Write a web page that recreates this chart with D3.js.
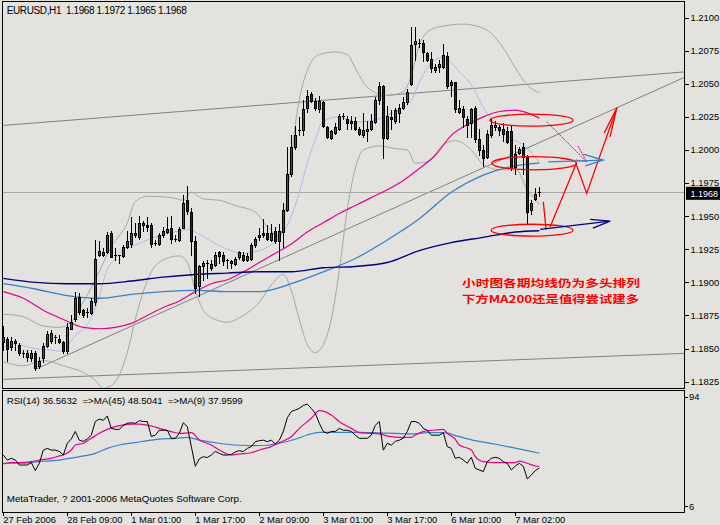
<!DOCTYPE html>
<html><head><meta charset="utf-8">
<script src="https://cdnjs.cloudflare.com/ajax/libs/d3/7.8.5/d3.min.js"></script>
<style>
body{margin:0;background:#e3e2de;}
svg{display:block;}
text{font-family:"Liberation Sans",Arial,sans-serif;}
</style>
</head><body><svg id="c" width="720" height="525"></svg>
<script>
// ---------- DATA ----------
const openP=[1.1855,1.1857,1.1851,1.1854,1.1853,1.1847,1.1844,1.1843,1.1847,1.1837,
1.1843,1.1852,1.1856,1.1858,1.1857,1.1855,1.1848,1.1865,1.1872,1.1889,
1.1879,1.1877,1.1877,1.1885,1.1921,1.1921,1.1923,1.1937,1.1921,1.1920,
1.1920,1.1927,1.1929,1.1936,1.1934,1.1943,1.1943,1.1943,1.1929,1.1929,
1.1936,1.1938,1.1941,1.1933,1.1932,1.1941,1.1962,1.1953,1.1931,1.1897,
1.1912,1.1914,1.1911,1.1913,1.1923,1.1921,1.1917,1.1916,1.1914,1.1919,
1.1921,1.1917,1.1918,1.1928,1.1934,1.1936,1.1937,1.1932,1.1939,1.1931,
1.1938,1.1955,1.1982,1.2002,1.2014,1.2015,1.2032,1.2042,1.2037,1.2031,
1.2036,1.2017,1.2009,1.2013,1.2016,1.2026,1.2023,1.2020,1.2022,1.2016,
1.2011,1.2014,1.2016,1.2021,1.2038,1.2048,1.2009,1.2025,1.2022,1.2028,
1.2032,1.2036,1.2050,1.2080,1.2081,1.2081,1.2073,1.2069,1.2060,1.2063,
1.2063,1.2071,1.2049,1.2051,1.2029,1.2031,1.2023,1.2020,1.2032,1.2008,
1.2000,1.1995,1.2011,1.2017,1.2017,1.2016,1.2014,1.2014,1.1987,1.1998,
1.2002,1.1995,1.1955,1.1963,1.1968];
const highP=[1.1867,1.1859,1.1859,1.1857,1.1854,1.1849,1.1849,1.1849,1.1848,1.1844,
1.1854,1.1863,1.1864,1.1860,1.1860,1.1856,1.1869,1.1875,1.1893,1.1892,
1.1880,1.1881,1.1888,1.1932,1.1931,1.1926,1.1938,1.1939,1.1926,1.1921,
1.1928,1.1939,1.1949,1.1945,1.1950,1.1946,1.1949,1.1945,1.1932,1.1937,
1.1942,1.1949,1.1950,1.1936,1.1942,1.1966,1.1973,1.1956,1.1935,1.1913,
1.1916,1.1917,1.1917,1.1923,1.1924,1.1923,1.1918,1.1917,1.1919,1.1924,
1.1923,1.1922,1.1930,1.1934,1.1941,1.1948,1.1943,1.1944,1.1942,1.1944,
1.1960,1.2002,1.2011,1.2018,1.2025,1.2038,1.2045,1.2044,1.2039,1.2041,
1.2037,1.2018,1.2015,1.2020,1.2027,1.2028,1.2026,1.2026,1.2025,1.2017,
1.2028,1.2022,1.2027,1.2040,1.2051,1.2049,1.2033,1.2030,1.2032,1.2035,
1.2040,1.2046,1.2093,1.2093,1.2084,1.2083,1.2074,1.2074,1.2065,1.2068,
1.2080,1.2074,1.2053,1.2051,1.2038,1.2033,1.2026,1.2032,1.2033,1.2016,
1.2004,1.2015,1.2023,1.2022,1.2019,1.2020,1.2017,1.2018,1.2004,1.2002,
1.2005,1.1996,1.1962,1.1971,1.1972];
const lowP=[1.1849,1.1841,1.1849,1.1849,1.1845,1.1844,1.1841,1.1841,1.1834,1.1835,
1.1840,1.1851,1.1854,1.1854,1.1854,1.1847,1.1847,1.1865,1.1871,1.1876,
1.1874,1.1874,1.1876,1.1883,1.1920,1.1920,1.1922,1.1919,1.1917,1.1915,
1.1919,1.1926,1.1927,1.1934,1.1933,1.1939,1.1939,1.1927,1.1928,1.1928,
1.1934,1.1937,1.1930,1.1931,1.1931,1.1941,1.1952,1.1921,1.1892,1.1890,
1.1902,1.1903,1.1909,1.1912,1.1915,1.1913,1.1911,1.1911,1.1913,1.1918,
1.1916,1.1916,1.1917,1.1927,1.1932,1.1934,1.1932,1.1931,1.1930,1.1917,
1.1927,1.1954,1.1980,1.2001,1.2011,1.2011,1.2029,1.2036,1.2030,1.2029,
1.2017,1.2009,1.2008,1.2012,1.2015,1.2023,1.2016,1.2016,1.2015,1.2011,
1.2010,1.2007,1.2015,1.2020,1.2035,1.1994,1.2008,1.2016,1.2020,1.2021,
1.2031,1.2035,1.2049,1.2068,1.2078,1.2067,1.2067,1.2059,1.2059,1.2059,
1.2062,1.2047,1.2041,1.2029,1.2028,1.2017,1.2010,1.2010,1.2006,1.1996,
1.1988,1.1994,1.2010,1.2015,1.2011,1.2007,1.2005,1.1985,1.1982,1.1997,
1.1982,1.1945,1.1952,1.1962,1.1965];
const closeP=[1.1859,1.1850,1.1856,1.1856,1.1847,1.1846,1.1847,1.1847,1.1835,1.1841,
1.1852,1.1861,1.1862,1.1859,1.1855,1.1848,1.1866,1.1870,1.1888,1.1878,
1.1875,1.1878,1.1886,1.1918,1.1924,1.1923,1.1936,1.1919,1.1920,1.1921,
1.1927,1.1931,1.1937,1.1937,1.1945,1.1945,1.1942,1.1929,1.1930,1.1936,
1.1939,1.1940,1.1933,1.1932,1.1940,1.1960,1.1954,1.1931,1.1896,1.1912,
1.1915,1.1915,1.1914,1.1921,1.1920,1.1916,1.1917,1.1915,1.1918,1.1923,
1.1917,1.1920,1.1928,1.1933,1.1936,1.1937,1.1933,1.1937,1.1931,1.1939,
1.1955,1.1982,1.2002,1.2011,1.2015,1.2031,1.2041,1.2037,1.2032,1.2037,
1.2018,1.2010,1.2014,1.2017,1.2026,1.2025,1.2020,1.2022,1.2016,1.2012,
1.2015,1.2016,1.2022,1.2038,1.2048,1.2009,1.2026,1.2023,1.2030,1.2032,
1.2036,1.2044,1.2079,1.2082,1.2080,1.2074,1.2068,1.2062,1.2063,1.2065,
1.2072,1.2048,1.2051,1.2031,1.2032,1.2025,1.2019,1.2031,1.2008,1.2000,
1.1994,1.2012,1.2019,1.2019,1.2015,1.2012,1.2006,1.1986,1.1997,1.2001,
1.1995,1.1953,1.1960,1.1967,1.1968];

const navyIdx=[0,8,16,24,32,40,48,56,64,72,80,88,96,104,112,120,128,134];
const navyVal=[1.1903,1.1900,1.1899,1.1899,1.1901,1.1904,1.1906,1.1907,1.1908,1.1908,1.1911,1.1912,1.1915,1.1924,1.1930,1.1934,1.1938,1.1939];
const steelIdx=[0,8,16,24,32,40,48,56,64,72,80,88,96,104,112,120,128,134];
const steelVal=[1.1899,1.1895,1.1890,1.1888,1.1891,1.1893,1.1894,1.1893,1.1893,1.1899,1.1908,1.1918,1.1932,1.1948,1.1968,1.1981,1.1988,1.1990];
const magIdx=[0,5,10,15,20,24,28,32,36,40,44,48,52,56,60,64,68,72,76,80,84,88,92,96,100,104,108,112,116,120,124,128,131,134];
const magVal=[1.1893,1.1888,1.1879,1.1872,1.1866,1.1865,1.1866,1.1869,1.1875,1.1881,1.1886,1.1893,1.1899,1.1902,1.1908,1.1915,1.1922,1.1929,1.1938,1.1945,1.1952,1.1958,1.1964,1.1970,1.1977,1.1986,1.1996,1.2011,1.2019,1.2025,1.2029,1.2030,1.2028,1.2024];
const lightIdx=[4,8,12,14,16,18,20,22,24,26,28,30,32,36,40,44,46,48,52,56,60,64,68,70,72,74,76,78,80,84,88,92,96,100,102,104,106,108,110,112,114,116,118,120,122,124,126,128,130,132,134];
const lightVal=[1.1853,1.1850,1.1849,1.1848,1.1852,1.1860,1.1865,1.1873,1.1890,1.1910,1.1918,1.1925,1.1927,1.1932,1.1936,1.1939,1.1940,1.1938,1.1931,1.1925,1.1922,1.1924,1.1931,1.1938,1.1950,1.1968,1.1990,1.2008,1.2022,1.2025,1.2021,1.2022,1.2026,1.2032,1.2037,1.2051,1.2062,1.2068,1.2070,1.2066,1.2059,1.2053,1.2044,1.2032,1.2023,1.2015,1.2010,1.2007,1.2004,1.1998,1.1990];
const bbUpIdx=[0,5,10,14,17,19,23,27,31,33,36,42,45,47,50,54,58,63,66,69,70,71,72,73,74,76,79,83,86,88,90,92,96,100,102,104,106,109,115,119,122,125,128,131,134];
const bbUpVal=[1.1876,1.1874,1.1867,1.1866,1.1870,1.1880,1.1902,1.1927,1.1945,1.1961,1.1965,1.1964,1.1962,1.1968,1.1963,1.1962,1.1958,1.1953,1.1942,1.1935,1.1943,1.1966,1.1992,1.2019,1.2038,1.2060,1.2072,1.2074,1.2072,1.2062,1.2051,1.2045,1.2041,1.2044,1.2056,1.2079,1.2089,1.2093,1.2095,1.2093,1.2088,1.2077,1.2062,1.2049,1.2043];
const bbLoIdx=[0,5,10,15,20,23,25,27,29,31,33,35,37,40,44,46,48,50,53,56,60,64,67,70,72,74,76,78,80,82,84,86,88,90,94,98,101,103,106,110,113,117,120,124,128,131,134];
const bbLoVal=[1.1840,1.1837,1.1841,1.1837,1.1832,1.1826,1.1820,1.1822,1.1830,1.1847,1.1872,1.1893,1.1908,1.1917,1.1920,1.1915,1.1894,1.1879,1.1872,1.1870,1.1875,1.1885,1.1898,1.1906,1.1894,1.1872,1.1853,1.1847,1.1853,1.1872,1.1909,1.1955,1.1986,1.2000,1.2003,1.2001,1.2000,1.1990,1.1991,1.2004,1.2007,1.2000,1.1989,1.1985,1.1986,1.1970,1.1959];

// trendlines: [startIdx, startPrice, endIdx, endPrice]
const trendA=[0,1.20185,170.2,1.20589];
const trendB=[8,1.18343,170.2,1.20547];
const trendC=[0,1.18268,170.2,1.18464];
const bidPrice=1.1968;

const rsiVal=[47,43,44.4,43,39,39,39,41,34.5,40.4,
51,52.4,51,51,50,47,56.5,60,66,59,
58,60,63,74,76,75,78.5,68.5,67.7,67.7,
71,72.6,73,72.6,74.7,74,74,62,63,67,
67,67,60.5,60.5,64.5,73,70,54,38,44,
45.7,45,47,50,48.4,47,47,47.5,49.5,50.6,
49.8,52.4,53.8,57.8,58.6,59,57.8,59,56,59,
66,77,82,83.3,84.6,87,88,84.6,80.6,72.6,
66,64.5,66,66,68.5,67,67,66,63,60.5,
60.5,60.5,63,71,74,51,56.5,55,58,59,
60.5,66,74,74,72.6,68.5,67,63,63,63,
65,53.8,52.4,44.4,45.2,43,40.4,45.2,36.3,35,
33.7,41.7,44.4,45.2,44.4,41.7,40.4,35,38.2,40.4,
38,27.8,31,34.5,36.56];
const rsiMa9Idx=[0,2,4,7,9,12,14,15,17,18,20,22,24,26,28,32,34,37,39,42,44,47,49,52,54,57,59,62,64,67,69,72,74,77,79,82,84,87,89,92,94,97,99,102,103,105,108,110,111,113,114,117,118,120,123,125,128,129,131,133,134];
const rsiMa9Val=[39.8,40.9,40.9,41.7,43.0,44.4,46.3,47.1,51.1,55.1,56.5,60.5,64.5,67.7,69.9,72.0,72.0,70.4,68.5,65.9,64.5,65.0,59.1,55.1,51.1,47.1,47.9,48.9,51.1,53.8,57.0,61.8,68.5,76.6,82.8,79.3,73.9,68.5,65.0,64.5,64.0,61.8,61.3,61.3,63.2,65.9,67.2,67.7,64.5,59.7,55.1,51.1,45.7,41.7,40.9,40.9,40.9,42.2,40.4,38.2,37.96];
const rsiMa45Idx=[0,4,9,14,19,23,26,29,33,36,39,43,46,49,53,56,59,63,66,69,73,76,79,83,86,89,93,98,102,106,110,114,118,123,127,131,134];
const rsiMa45Val=[40.4,40.4,41.7,43.0,45.7,48.4,52.4,55.1,57.0,58.6,59.9,60.5,61.3,59.1,57.0,55.7,54.9,54.6,54.9,56.5,59.7,63.2,65.3,65.3,65.3,65.3,65.0,64.5,64.0,65.0,65.0,61.8,58.6,55.7,53.2,50.6,48.5];

const priceTicks=[1.2100,1.2075,1.2050,1.2025,1.2000,1.1975,1.1950,1.1925,1.1900,1.1875,1.1850,1.1825];
const timeIdx=[0,16,32,48,64,80,96,112,128];
const timeLabels=["27 Feb 2006","28 Feb 09:00","1 Mar 01:00","1 Mar 17:00","2 Mar 09:00","3 Mar 01:00","3 Mar 17:00","6 Mar 10:00","7 Mar 02:00"];
const rsiTicks=[94,6];

// annotations (bar index / price)
const ellIdx=[132.05,132.7,132.2];
const ellPrice=[1.20225,1.1990,1.19394];
const ellHalfBars=[10.4,10.6,10.25];
const ellHalfPrice=[0.00045,0.0005,0.00045];
const redIdx=[135,135.7,136.7,143.2,145.85,153.4];
const redPrice=[1.19608,1.1940,1.19419,1.19893,1.19672,1.20319];
const redHeadIdx=[150.25,153.4,151.7];
const redHeadPrice=[1.20129,1.20319,1.20099];
const magArrIdx=[135.85,145.85];
const magArrPrice=[1.20212,1.1991];
const magHeadIdx=[143.7,145.85,142.9];
const magHeadPrice=[1.20029,1.1991,1.19925];
const steelArrIdx=[136.25,150];
const steelArrPrice=[1.1991,1.19923];
const steelHeadIdx=[145,150,145.5];
const steelHeadPrice=[1.19968,1.19923,1.1988];
const navyArrIdx=[134.2,151.7];
const navyArrPrice=[1.1940,1.19462];
const navyHeadIdx=[146.7,151.7,147.4];
const navyHeadPrice=[1.19475,1.19462,1.1941];

const headerText="EURUSD,H1  1.1968 1.1972 1.1965 1.1968";
const rsiText="RSI(14) 36.5632  =>MA(45) 48.5041  =>MA(9) 37.9599";
const copyText="MetaTrader, ? 2001-2006 MetaQuotes Software Corp.";
const noteLines=["小时图各期均线仍为多头排列","下方MA200还是值得尝试建多"];

// ---------- SCALES ----------
const svg=d3.select('#c');
const x=d3.scaleLinear().domain([0,134]).range([3.3,539.3]);
const y=d3.scaleLinear().domain([1.1825,1.2100]).range([381.7,17.5]);
const yr=d3.scaleLinear().domain([6,94]).range([506,396.7]);

const C={bg:"#e3e2de",red:"#ff0000",blue:"#1010d8",navy:"#000080",steel:"#3a80c2",mag:"#e0058c",light:"#a8bfe6",bb:"#a6a6a6",trend:"#808080",bid:"#a8a8a8"};

const defs=svg.append('defs');
defs.append('clipPath').attr('id','cm').append('rect').attr('x',3).attr('y',2).attr('width',681).attr('height',386);
defs.append('clipPath').attr('id','cr').append('rect').attr('x',3).attr('y',391).attr('width',681).attr('height',121);

svg.append('rect').attr('width',720).attr('height',525).attr('fill',C.bg);

const gm=svg.append('g').attr('clip-path','url(#cm)');
const gr=svg.append('g').attr('clip-path','url(#cr)');

[trendA,trendB,trendC].forEach(t=>{
  gm.append('line').attr('x1',x(t[0])).attr('y1',y(t[1])).attr('x2',x(t[2])).attr('y2',y(t[3]))
    .attr('stroke',C.trend).attr('stroke-width',1);
});
gm.append('line').attr('x1',3).attr('x2',684).attr('y1',Math.round(y(bidPrice))+0.5).attr('y2',Math.round(y(bidPrice))+0.5)
  .attr('stroke',C.bid).attr('stroke-width',1).attr('shape-rendering','crispEdges');

function series(g,idx,val,col,w,ys,curve){
  const ln=d3.line().x(d=>x(d[0])).y(d=>ys(d[1])).curve(curve||d3.curveMonotoneX);
  g.append('path').attr('d',ln(idx.map((v,k)=>[v,val[k]]))).attr('fill','none').attr('stroke',col).attr('stroke-width',w);
}
series(gm,bbUpIdx,bbUpVal,C.bb,1,y);
series(gm,bbLoIdx,bbLoVal,C.bb,1,y);
series(gm,lightIdx,lightVal,C.light,1,y);
series(gm,magIdx,magVal,C.mag,1.2,y);
series(gm,steelIdx,steelVal,C.steel,1.3,y);
series(gm,navyIdx,navyVal,C.navy,1.4,y);

const cg=gm.append('g').attr('shape-rendering','crispEdges');
openP.forEach((o,i)=>{
  const c=Math.round(x(i));
  const cl=closeP[i];
  cg.append('line').attr('x1',c+0.5).attr('x2',c+0.5).attr('y1',Math.round(y(highP[i]))).attr('y2',Math.round(y(lowP[i]))+1)
    .attr('stroke','#000').attr('stroke-width',1);
  const top=Math.round(y(Math.max(o,cl))), bot=Math.round(y(Math.min(o,cl)));
  if(bot-top<2){
    cg.append('line').attr('x1',c-1).attr('x2',c+2).attr('y1',top+0.5).attr('y2',top+0.5).attr('stroke','#000');
  } else {
    cg.append('rect').attr('x',c-0.5).attr('y',top+0.5).attr('width',2).attr('height',bot-top)
      .attr('fill',cl>=o?C.red:C.blue).attr('stroke','#000').attr('stroke-width',1);
  }
});

const ag=gm.append('g');
ellIdx.forEach((e,k)=>{
  const cx=x(e), cy=y(ellPrice[k]);
  const rx=x(e+ellHalfBars[k])-cx, ry=cy-y(ellPrice[k]+ellHalfPrice[k]);
  ag.append('ellipse').attr('cx',cx).attr('cy',cy).attr('rx',rx).attr('ry',ry).attr('fill','none').attr('stroke','#ff0000').attr('stroke-width',1.3);
});
function poly(idx,val,col,w,dash){
  const ln=d3.line().x(d=>x(d[0])).y(d=>y(d[1]));
  const p=ag.append('path').attr('d',ln(idx.map((v,k)=>[v,val[k]]))).attr('fill','none').attr('stroke',col).attr('stroke-width',w);
  if(dash)p.attr('stroke-dasharray',dash);
}
poly(redIdx.slice(0,2),redPrice.slice(0,2),'#ff0000',1.3);
poly(redIdx.slice(2),redPrice.slice(2),'#ff0000',1.3);
poly(redHeadIdx,redHeadPrice,'#ff0000',1.3);
poly(magArrIdx,magArrPrice,C.mag,1,'2,1');
poly(magHeadIdx,magHeadPrice,C.mag,1,'2,1');
poly(steelArrIdx,steelArrPrice,C.steel,1.3);
poly(steelHeadIdx,steelHeadPrice,C.steel,1.3);
poly(navyArrIdx,navyArrPrice,C.navy,1.3);
poly(navyHeadIdx,navyHeadPrice,C.navy,1.3);

// Chinese note: two lines, spaced so their boxes do not collide
noteLines.forEach((t,k)=>{
  svg.append('text').attr('x',462).attr('y',287.2+k*15.6).attr('fill','#ff0000').attr('font-weight','bold')
    .attr('font-size','10.6px').style('font-family','"Noto Sans CJK SC",sans-serif')
    .attr('textLength',k===0?178:177).attr('lengthAdjust','spacingAndGlyphs').text(t);
});

series(gr,rsiMa45Idx,rsiMa45Val,C.steel,1.2,yr);
series(gr,rsiMa9Idx,rsiMa9Val,C.mag,1.2,yr);
series(gr,d3.range(rsiVal.length),rsiVal,'#000',1,yr,d3.curveLinear);

const bg=svg.append('g').attr('shape-rendering','crispEdges');
bg.append('rect').attr('x',2.5).attr('y',1.5).attr('width',682).attr('height',387).attr('fill','none').attr('stroke','#000');
bg.append('rect').attr('x',2.5).attr('y',390.5).attr('width',682).attr('height',122).attr('fill','none').attr('stroke','#000');

priceTicks.forEach(p=>{
  const yy=Math.round(y(p))+0.5;
  bg.append('line').attr('x1',685).attr('x2',689).attr('y1',yy).attr('y2',yy).attr('stroke','#000');
  svg.append('text').attr('x',690.5).attr('y',y(p)+3.4).attr('font-size','9.4px').attr('fill','#000').text(p.toFixed(4));
});
const by=y(bidPrice);
svg.append('rect').attr('x',686).attr('y',by-5.5).attr('width',34).attr('height',13).attr('fill','#000');
svg.append('text').attr('x',690.5).attr('y',by+4.2).attr('font-size','9px').attr('fill','#fff').text(bidPrice.toFixed(4));

rsiTicks.forEach(v=>{
  const yy=Math.round(yr(v))+0.5;
  bg.append('line').attr('x1',685).attr('x2',688).attr('y1',yy).attr('y2',yy).attr('stroke','#000');
  svg.append('text').attr('x',689).attr('y',yr(v)+3.6).attr('font-size','9.4px').attr('fill','#000').text(v);
});

timeIdx.forEach((t,k)=>{
  const xx=Math.round(x(t))+0.5;
  bg.append('line').attr('x1',xx).attr('x2',xx).attr('y1',513).attr('y2',516).attr('stroke','#000');
  svg.append('text').attr('x',x(t)).attr('y',523).attr('font-size','9.4px').attr('fill','#000').text(timeLabels[k]);
});

svg.append('text').attr('x',6.7).attr('y',14).attr('font-size','10px').attr('fill','#000').style('white-space','pre')
  .attr('textLength',180).attr('lengthAdjust','spacing').text(headerText);
svg.append('text').attr('x',6.7).attr('y',404).attr('font-size','9.7px').attr('fill','#000').style('white-space','pre')
  .attr('textLength',236).attr('lengthAdjust','spacing').text(rsiText);
svg.append('text').attr('x',6.7).attr('y',502).attr('font-size','9.8px').attr('fill','#000')
  .attr('textLength',235).attr('lengthAdjust','spacing').text(copyText);
</script>
</body></html>
